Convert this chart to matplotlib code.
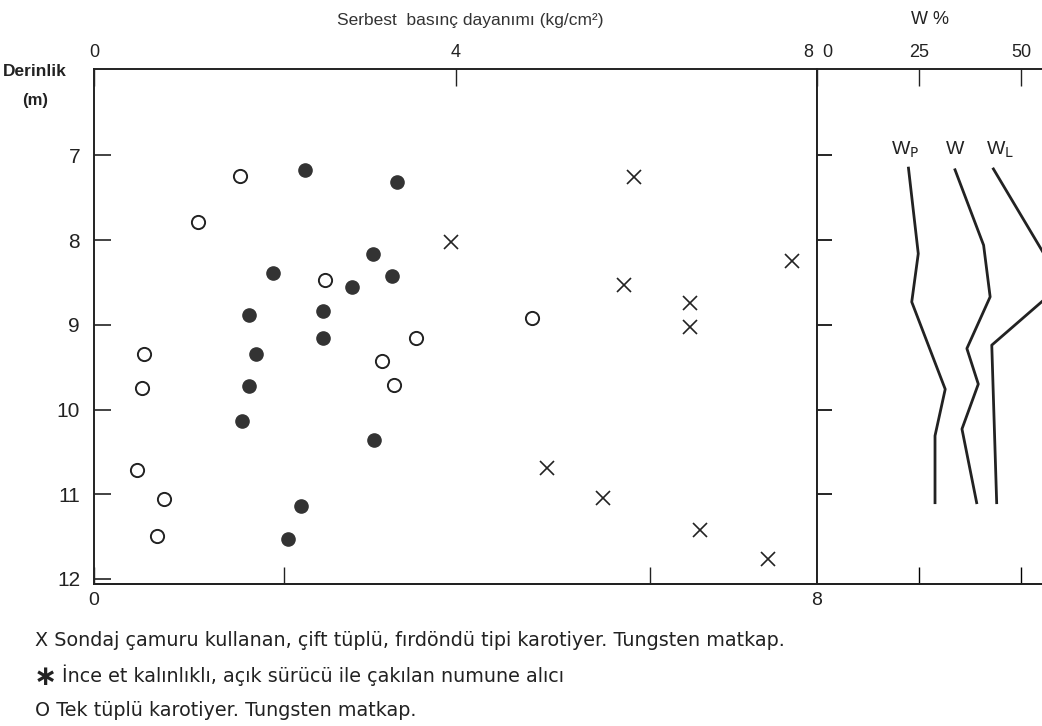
import matplotlib
matplotlib.use("Agg")
import matplotlib.pyplot as plt

plt.rcParams['font.family'] = ['Liberation Sans', 'DejaVu Sans']

# Serbest basinc dayanimi (kg/cm2) vs derinlik (m)
open_x = [1.61, 1.15, 2.56, 3.56, 3.19, 3.32, 0.55, 0.53, 0.48, 0.77, 0.70, 4.85]
open_d = [7.24, 7.79, 8.47, 9.15, 9.43, 9.71, 9.34, 9.75, 10.71, 11.06, 11.49, 8.92]

filled_x = [2.34, 3.35, 3.09, 3.30, 1.98, 2.86, 1.72, 2.53, 2.53, 1.79, 1.71, 1.64, 3.10, 2.29, 2.15]
filled_d = [7.17, 7.31, 8.16, 8.42, 8.39, 8.55, 8.88, 8.84, 9.15, 9.35, 9.72, 10.13, 10.36, 11.14, 11.53]

cross_x = [3.95, 5.98, 7.72, 5.86, 6.59, 6.60, 5.01, 5.63, 6.70, 7.46]
cross_d = [8.02, 7.26, 8.25, 8.53, 8.74, 9.02, 10.69, 11.05, 11.42, 11.77]

# W % profiles
wp_w = [22.4, 24.8, 23.2, 31.4, 28.9, 28.9]
wp_d = [7.15, 8.16, 8.73, 9.76, 10.31, 11.10]
w_w = [33.8, 40.8, 42.4, 36.7, 39.5, 35.5, 39.1]
w_d = [7.17, 8.06, 8.67, 9.28, 9.70, 10.23, 11.10]
wl_w = [43.2, 60.0, 42.8, 44.0]
wl_d = [7.16, 8.52, 9.24, 11.10]

depth_ticks = [7, 8, 9, 10, 11, 12]
ink = '#222222'

W, H = 1042, 726
fig = plt.figure(figsize=(W / 100, H / 100), dpi=100)

def fx(px):
    return px / W

def fy(py):
    return 1 - py / H

left, right_sep, top, bottom = 94, 817, 69, 584
ax = fig.add_axes([fx(left), fy(bottom), fx(right_sep - left), fy(top) - fy(bottom)])
ax2 = fig.add_axes([fx(right_sep), fy(bottom), fx(W - right_sep), fy(top) - fy(bottom)])

for a in (ax, ax2):
    a.set_ylim(12.06, 5.98)
    for s in a.spines.values():
        s.set_color(ink)
        s.set_linewidth(1.4)

ax.set_xlim(0, 8)
ax2.set_xlim(0, 55.1)

# scatter marks
ax.plot(open_x, open_d, 'o', ms=9.5, mfc='white', mec=ink, mew=1.4, clip_on=False)
ax.plot(filled_x, filled_d, 'o', ms=9.5, mfc='#333333', mec='#333333', clip_on=False)
ax.plot(cross_x, cross_d, 'x', ms=10, mec=ink, mew=1.2, clip_on=False)

# left panel axes
ax.set_yticks(depth_ticks)
ax.set_yticklabels([str(t) for t in depth_ticks])
ax.tick_params(axis='y', direction='in', length=12, width=1.2, pad=10,
               labelsize=15, colors=ink, right=False)
ax.xaxis.tick_top()
ax.set_xticks([0, 4, 8])
ax.set_xticklabels(['0', '4', ''])
ax.tick_params(axis='x', direction='in', length=12, width=1.0, pad=6,
               labelsize=13, colors=ink)
ax.annotate('8', xy=(8, 1), xycoords=('data', 'axes fraction'), xytext=(-3, 6),
            textcoords='offset points', ha='right', va='bottom', fontsize=13, color=ink)
bx = ax.secondary_xaxis('bottom')
bx.set_xticks([0, 2.1, 6.15, 8])
bx.set_xticklabels(['0', '', '', '8'])
bx.tick_params(direction='in', length=12, width=1.0, pad=6, labelsize=14, colors=ink)
bx.spines['bottom'].set_linewidth(1.4)
bx.spines['bottom'].set_color(ink)

# right panel axes
ax2.spines['right'].set_visible(False)
ax2.plot(wp_w, wp_d, color=ink, lw=2.0)
ax2.plot(w_w, w_d, color=ink, lw=2.0)
ax2.plot(wl_w, wl_d, color=ink, lw=2.0)
ax2.set_yticks(depth_ticks[:-1])
ax2.tick_params(axis='y', direction='in', length=11, width=1.2, labelleft=False)
ax2.xaxis.tick_top()
ax2.set_xticks([0, 25, 50])
ax2.set_xticklabels(['', '25', '50'])
ax2.tick_params(axis='x', direction='in', length=12, width=1.0, pad=6,
                labelsize=13, colors=ink)
ax2.annotate('0', xy=(0, 1), xycoords=('data', 'axes fraction'), xytext=(4, 6),
             textcoords='offset points', ha='left', va='bottom', fontsize=13, color=ink)
bx2 = ax2.secondary_xaxis('bottom')
bx2.set_xticks([25, 50])
bx2.set_xticklabels(['', ''])
bx2.tick_params(direction='in', length=12, width=1.0)
bx2.spines['bottom'].set_linewidth(1.4)
bx2.spines['bottom'].set_color(ink)

ax2.text(21.6, 6.93, r'W$_\mathrm{P}$', fontsize=14, color=ink, ha='center', va='center')
ax2.text(33.8, 6.93, 'W', fontsize=14, color=ink, ha='center', va='center')
ax2.text(44.9, 6.93, r'W$_\mathrm{L}$', fontsize=14, color=ink, ha='center', va='center')

# titles
fig.text(fx(470), fy(20), 'Serbest  basınç dayanımı (kg/cm²)', fontsize=12.5,
         color='#333333', ha='center', va='center')
fig.text(fx(930), fy(20), 'W %', fontsize=13, color=ink, ha='center', va='center')
fig.text(fx(35), fy(72), 'Derinlik', fontsize=12.5, fontweight='bold', color=ink,
         ha='center', va='center')
fig.text(fx(35), fy(101), '(m)', fontsize=12, fontweight='bold', color=ink,
         ha='center', va='center')

# legend notes
note_font = ['DejaVu Sans']
fig.text(fx(35), fy(640), 'X Sondaj çamuru kullanan, çift tüplü, fırdöndü tipi karotiyer. Tungsten matkap.',
         fontsize=13.8, color=ink, ha='left', va='center', family=note_font)
fig.text(fx(34), fy(677), '∗', fontsize=20, fontweight='bold', color=ink, ha='left', va='center',
         family=note_font)
fig.text(fx(62), fy(675), 'İnce et kalınlıklı, açık sürücü ile çakılan numune alıcı',
         fontsize=13.8, color=ink, ha='left', va='center', family=note_font)
fig.text(fx(35), fy(710), 'O Tek tüplü karotiyer. Tungsten matkap.',
         fontsize=13.8, color=ink, ha='left', va='center', family=note_font)

fig.savefig('out.png', dpi=100)
